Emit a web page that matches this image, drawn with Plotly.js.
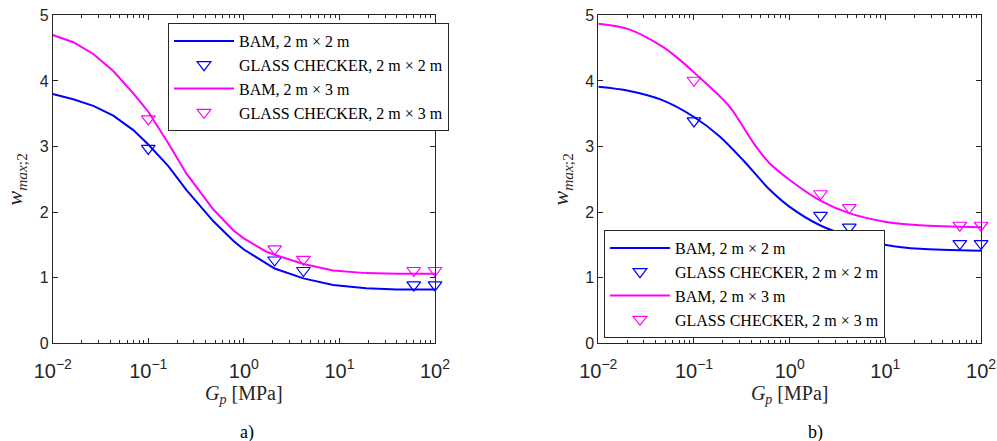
<!DOCTYPE html>
<html>
<head>
<meta charset="utf-8">
<script src="https://cdn.plot.ly/plotly-3.0.1.min.js"></script>
<style>html,body{margin:0;padding:0;background:#fff;}#chart{width:997px;height:441px;}</style>
</head>
<body>
<div id="chart"></div>
<script>
// ---- data: panel a) ----
const aCurveX = [0.01, 0.0164, 0.0266, 0.043, 0.0697, 0.1, 0.162, 0.25, 0.48, 0.78, 1, 1.7, 2.1, 4.2, 8.6, 19, 40, 100];
const aBam22 = [3.80, 3.72, 3.62, 3.47, 3.25, 3.03, 2.70, 2.34, 1.86, 1.56, 1.43, 1.22, 1.14, 0.99, 0.89, 0.84, 0.82, 0.82];
const aBam23 = [4.70, 4.59, 4.41, 4.15, 3.81, 3.53, 3.05, 2.59, 2.04, 1.72, 1.60, 1.40, 1.35, 1.21, 1.11, 1.07, 1.06, 1.06];
const gcX = [0.1, 2.1, 4.2, 60, 100];
const aGc22 = [2.97, 1.27, 1.11, 0.89, 0.89];
const aGc23 = [3.42, 1.44, 1.28, 1.11, 1.11];
// ---- data: panel b) ----
const bBam22X = [0.01, 0.0206, 0.046, 0.1, 0.187, 0.327, 0.62, 1, 2.07, 4.27, 10.2, 23, 100];
const bBam22 = [3.91, 3.85, 3.71, 3.45, 3.15, 2.79, 2.34, 2.08, 1.80, 1.63, 1.50, 1.44, 1.41];
const bBam23X = [0.01, 0.0206, 0.046, 0.0686, 0.1, 0.229, 0.434, 0.62, 1, 2.07, 4.27, 10.2, 23, 100];
const bBam23 = [4.87, 4.79, 4.53, 4.34, 4.13, 3.63, 3.02, 2.74, 2.49, 2.18, 1.98, 1.85, 1.80, 1.77];
const bGc22 = [3.39, 1.95, 1.77, 1.52, 1.52];
const bGc23 = [4.01, 2.28, 2.07, 1.80, 1.80];
// ---- labels ----
const seriesNames = ['BAM, 2 m × 2 m', 'GLASS CHECKER, 2 m × 2 m', 'BAM, 2 m × 3 m', 'GLASS CHECKER, 2 m × 3 m'];
const panelLabels = ['a)', 'b)'];
const yTitle = '<i>w</i><sub><i>max</i>;2</sub>';
const xTitle = '<i>G</i><sub><i>p</i></sub> [MPa]';

const BLUE = '#0000FF', MAG = '#FF00FF', AX = '#262626';
const serif = '"Liberation Serif", "Times New Roman", serif';
const sans = '"Liberation Sans", Arial, sans-serif';

function lineTrace(x, y, name, color, xa, ya, leg, shape) {
  return {x: x, y: y, name: name, type: 'scatter', mode: 'lines', xaxis: xa, yaxis: ya, legend: leg,
    line: {color: color, width: 2, shape: shape, smoothing: 0.8}};
}
function markTrace(x, y, name, color, xa, ya, leg) {
  return {x: x, y: y, name: name, type: 'scatter', mode: 'markers', xaxis: xa, yaxis: ya, legend: leg,
    cliponaxis: false,
    marker: {symbol: 'triangle-down-open', size: 12, color: color, line: {color: color, width: 1.2}}};
}

const data = [
  lineTrace(aCurveX, aBam22, seriesNames[0], BLUE, 'x', 'y', 'legend', 'linear'),
  markTrace(gcX, aGc22, seriesNames[1], BLUE, 'x', 'y', 'legend'),
  lineTrace(aCurveX, aBam23, seriesNames[2], MAG, 'x', 'y', 'legend', 'linear'),
  markTrace(gcX, aGc23, seriesNames[3], MAG, 'x', 'y', 'legend'),
  lineTrace(bBam22X, bBam22, seriesNames[0], BLUE, 'x2', 'y2', 'legend2', 'spline'),
  markTrace(gcX, bGc22, seriesNames[1], BLUE, 'x2', 'y2', 'legend2'),
  lineTrace(bBam23X, bBam23, seriesNames[2], MAG, 'x2', 'y2', 'legend2', 'spline'),
  markTrace(gcX, bGc23, seriesNames[3], MAG, 'x2', 'y2', 'legend2')
];

function xAxis(domain, anchor) {
  return {
    type: 'log', range: [-2, 2], domain: domain, anchor: anchor, dtick: 1,
    exponentformat: 'power', labelalias: {'1': '10<sup>0</sup>', '10': '10<sup>1</sup>'},
    showline: true, mirror: 'ticks', linecolor: AX, linewidth: 1,
    ticks: 'inside', ticklen: 5, tickwidth: 1, tickcolor: AX,
    minor: {ticks: 'inside', ticklen: 3, tickwidth: 1, tickcolor: AX, dtick: 'D1', showgrid: false},
    showgrid: false, zeroline: false, ticklabelstandoff: 10,
    tickfont: {family: sans, size: 16, color: AX},
    title: {text: xTitle, font: {family: serif, size: 20, color: AX}, standoff: 4}
  };
}
function yAxis(anchor) {
  return {
    range: [0, 5], domain: [0.2215, 0.9653], anchor: anchor, dtick: 1,
    showline: true, mirror: 'ticks', linecolor: AX, linewidth: 1,
    ticks: 'inside', ticklen: 5, tickwidth: 1, tickcolor: AX,
    showgrid: false, zeroline: false,
    tickfont: {family: sans, size: 16, color: AX},
    title: {text: yTitle, font: {family: serif, size: 22, color: AX}, standoff: 10}
  };
}
const legendStyle = {
  xanchor: 'left', bgcolor: '#ffffff', bordercolor: AX, borderwidth: 1,
  font: {family: serif, size: 16, color: '#000'}, tracegroupgap: 0, itemwidth: 60
};

const layout = {
  width: 997, height: 441,
  margin: {l: 0, r: 0, t: 0, b: 0},
  paper_bgcolor: '#ffffff', plot_bgcolor: '#ffffff',
  showlegend: true,
  xaxis: xAxis([0.0529, 0.4363], 'y'),
  yaxis: yAxis('x'),
  xaxis2: xAxis([0.6001, 0.9840], 'y2'),
  yaxis2: yAxis('x2'),
  legend: Object.assign({x: 0.1685, y: 1 - 23 / 441, yanchor: 'top'}, legendStyle),
  legend2: Object.assign({x: 0.6058, y: 1 - 338 / 441, yanchor: 'bottom'}, legendStyle),
  annotations: [
    {text: panelLabels[0], xref: 'paper', yref: 'paper', x: 247 / 997, y: 1 - 432 / 441, xanchor: 'center', yanchor: 'middle', showarrow: false, font: {family: serif, size: 18, color: '#000'}},
    {text: panelLabels[1], xref: 'paper', yref: 'paper', x: 815 / 997, y: 1 - 432 / 441, xanchor: 'center', yanchor: 'middle', showarrow: false, font: {family: serif, size: 18, color: '#000'}}
  ]
};

Plotly.newPlot('chart', data, layout, {staticPlot: true, displayModeBar: false});
</script>
</body>
</html>
